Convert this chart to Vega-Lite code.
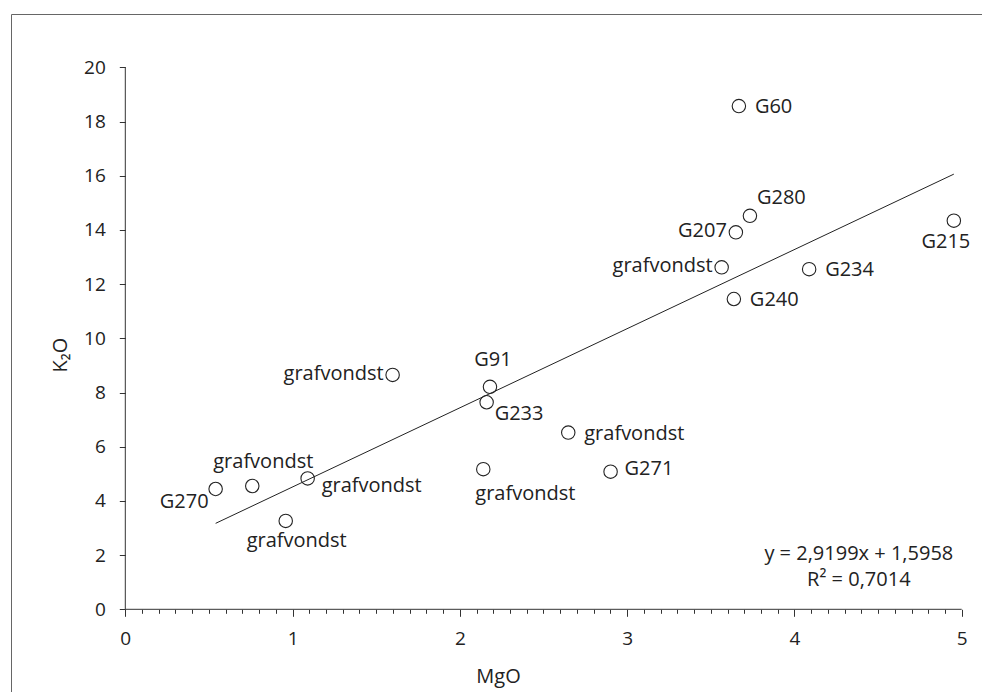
{
  "$schema": "https://vega.github.io/schema/vega-lite/v6.json",
  "width": 982,
  "height": 692,
  "autosize": {"type": "fit", "contains": "padding"},
  "padding": {"left": 11, "top": 14, "right": -3, "bottom": -3},
  "background": "white",
  "config": {
    "view": {"stroke": "#666", "strokeWidth": 1},
    "font": "Open Sans",
    "axis": {
      "grid": false,
      "domain": false,
      "labelFont": "Open Sans",
      "labelFontSize": 19,
      "labelColor": "#222",
      "tickColor": "#333",
      "tickWidth": 1,
      "titleFont": "Open Sans",
      "titleFontSize": 20,
      "titleFontWeight": "normal",
      "titleColor": "#222"
    },
    "text": {"font": "Open Sans", "fontSize": 20, "color": "#222", "baseline": "alphabetic"}
  },
  "datasets": {
    "main": [
      {"nr": 1, "label": "G60", "MgO": 3.668, "K2O": 18.57},
      {"nr": 2, "label": "G280", "MgO": 3.734, "K2O": 14.52},
      {"nr": 3, "label": "G207", "MgO": 3.650, "K2O": 13.91},
      {"nr": 4, "label": "grafvondst", "MgO": 3.565, "K2O": 12.62},
      {"nr": 5, "label": "G234", "MgO": 4.088, "K2O": 12.55},
      {"nr": 6, "label": "G240", "MgO": 3.638, "K2O": 11.45},
      {"nr": 7, "label": "G215", "MgO": 4.953, "K2O": 14.34},
      {"nr": 8, "label": "G91", "MgO": 2.180, "K2O": 8.21},
      {"nr": 9, "label": "G233", "MgO": 2.160, "K2O": 7.64},
      {"nr": 10, "label": "grafvondst", "MgO": 2.648, "K2O": 6.52},
      {"nr": 11, "label": "grafvondst", "MgO": 2.140, "K2O": 5.17},
      {"nr": 12, "label": "G271", "MgO": 2.901, "K2O": 5.08},
      {"nr": 13, "label": "grafvondst", "MgO": 1.598, "K2O": 8.65},
      {"nr": 14, "label": "G270", "MgO": 0.540, "K2O": 4.44},
      {"nr": 15, "label": "grafvondst", "MgO": 0.759, "K2O": 4.55},
      {"nr": 16, "label": "grafvondst", "MgO": 1.090, "K2O": 4.83},
      {"nr": 17, "label": "grafvondst", "MgO": 0.959, "K2O": 3.26}
    ],
    "trend": [
      {"MgO": 0.540, "K2O": 3.172},
      {"MgO": 4.953, "K2O": 16.058}
    ],
    "axes": [
      {"x1": 0, "x2": 5, "y1": 0, "y2": 0},
      {"x1": 0, "x2": 0, "y1": 0, "y2": 20}
    ],
    "eq": [
      {"MgO": 4.385, "K2O": 1.82, "txt": "y = 2,9199x + 1,5958"},
      {"MgO": 4.385, "K2O": 0.86, "txt": "R² = 0,7014"}
    ]
  },
  "resolve": {"axis": {"x": "independent"}},
  "layer": [
    {
      "data": {"name": "axes"},
      "mark": {"type": "rule", "color": "#333", "strokeWidth": 1},
      "encoding": {
        "x": {"field": "x1", "type": "quantitative", "scale": {"domain": [-0.6833, 5.1393], "nice": false, "zero": false},
          "axis": {"orient": "bottom", "offset": -85.7, "values": [0.1,0.2,0.3,0.4,0.5,0.6,0.7,0.8,0.9,1.1,1.2,1.3,1.4,1.5,1.6,1.7,1.8,1.9,2.1,2.2,2.3,2.4,2.5,2.6,2.7,2.8,2.9,3.1,3.2,3.3,3.4,3.5,3.6,3.7,3.8,3.9,4.1,4.2,4.3,4.4,4.5,4.6,4.7,4.8,4.9], "labels": false, "tickSize": 4, "title": null}},
        "x2": {"field": "x2"},
        "y": {"field": "y1", "type": "quantitative", "scale": {"domain": [-3.162, 21.967], "nice": false, "zero": false},
          "axis": {"orient": "left", "offset": -114.3, "values": [0, 2, 4, 6, 8, 10, 12, 14, 16, 18, 20], "tickSize": 6, "labelPadding": 14, "title": "K₂O", "titlePadding": 13}},
        "y2": {"field": "y2"}
      }
    },
    {
      "data": {"name": "main"},
      "mark": {"type": "point", "shape": "circle", "filled": false, "size": 180, "color": "#222", "strokeWidth": 1.1, "opacity": 1},
      "encoding": {
        "x": {"field": "MgO", "type": "quantitative", "scale": {"domain": [-0.6833, 5.1393], "nice": false, "zero": false},
          "axis": {"orient": "bottom", "offset": -85.7, "values": [0, 1, 2, 3, 4, 5], "tickSize": 7, "labelPadding": 13, "title": "MgO", "titlePadding": 18}},
        "y": {"field": "K2O", "type": "quantitative", "scale": {"domain": [-3.162, 21.967], "nice": false, "zero": false},
          "axis": {"orient": "left", "offset": -114.3, "values": [0, 2, 4, 6, 8, 10, 12, 14, 16, 18, 20], "tickSize": 6, "labelPadding": 14, "title": "K₂O", "titlePadding": 13}}
      }
    },
    {
      "data": {"name": "trend"},
      "mark": {"type": "line", "color": "#222", "strokeWidth": 1},
      "encoding": {
        "x": {"field": "MgO", "type": "quantitative", "scale": {"domain": [-0.6833, 5.1393], "nice": false, "zero": false}, "axis": null},
        "y": {"field": "K2O", "type": "quantitative", "scale": {"domain": [-3.162, 21.967], "nice": false, "zero": false},
          "axis": {"orient": "left", "offset": -114.3, "values": [0, 2, 4, 6, 8, 10, 12, 14, 16, 18, 20], "tickSize": 6, "labelPadding": 14, "title": "K₂O", "titlePadding": 13}}
      }
    },
    {
      "data": {"name": "eq"},
      "mark": {"type": "text", "align": "center"},
      "encoding": {
        "x": {"field": "MgO", "type": "quantitative", "scale": {"domain": [-0.6833, 5.1393], "nice": false, "zero": false}, "axis": null},
        "y": {"field": "K2O", "type": "quantitative", "scale": {"domain": [-3.162, 21.967], "nice": false, "zero": false},
          "axis": {"orient": "left", "offset": -114.3, "values": [0, 2, 4, 6, 8, 10, 12, 14, 16, 18, 20], "tickSize": 6, "labelPadding": 14, "title": "K₂O", "titlePadding": 13}},
        "text": {"field": "txt"}
      }
    },
    {
      "data": {"name": "main"},
      "encoding": {
        "x": {"field": "MgO", "type": "quantitative", "scale": {"domain": [-0.6833, 5.1393], "nice": false, "zero": false}, "axis": null},
        "y": {"field": "K2O", "type": "quantitative", "scale": {"domain": [-3.162, 21.967], "nice": false, "zero": false},
          "axis": {"orient": "left", "offset": -114.3, "values": [0, 2, 4, 6, 8, 10, 12, 14, 16, 18, 20], "tickSize": 6, "labelPadding": 14, "title": "K₂O", "titlePadding": 13}},
        "text": {"field": "label"}
      },
      "layer": [
        {"transform": [{"filter": {"field": "nr", "oneOf": [1, 5, 6, 10]}}], "mark": {"type": "text", "align": "left", "dx": 16, "dy": 7}},
        {"transform": [{"filter": {"field": "nr", "oneOf": [12]}}], "mark": {"type": "text", "align": "left", "dx": 14, "dy": 3.5}},
        {"transform": [{"filter": {"field": "nr", "oneOf": [16]}}], "mark": {"type": "text", "align": "left", "dx": 14, "dy": 14}},
        {"transform": [{"filter": {"field": "nr", "oneOf": [3, 4, 13]}}], "mark": {"type": "text", "align": "right", "dx": -9, "dy": 5}},
        {"transform": [{"filter": {"field": "nr", "oneOf": [7]}}], "mark": {"type": "text", "align": "center", "dx": -8, "dy": 27}},
        {"transform": [{"filter": {"field": "nr", "oneOf": [17]}}], "mark": {"type": "text", "align": "center", "dx": 11, "dy": 26}},
        {"transform": [{"filter": {"field": "nr", "oneOf": [11]}}], "mark": {"type": "text", "align": "left", "dx": -8, "dy": 31}},
        {"transform": [{"filter": {"field": "nr", "oneOf": [8]}}], "mark": {"type": "text", "align": "center", "dx": 3, "dy": -21}},
        {"transform": [{"filter": {"field": "nr", "oneOf": [15]}}], "mark": {"type": "text", "align": "center", "dx": 11, "dy": -18}},
        {"transform": [{"filter": {"field": "nr", "oneOf": [2]}}], "mark": {"type": "text", "align": "left", "dx": 7, "dy": -12}},
        {"transform": [{"filter": {"field": "nr", "oneOf": [9]}}], "mark": {"type": "text", "align": "left", "dx": 8, "dy": 18}},
        {"transform": [{"filter": {"field": "nr", "oneOf": [14]}}], "mark": {"type": "text", "align": "right", "dx": -7, "dy": 19}}
      ]
    }
  ]
}
